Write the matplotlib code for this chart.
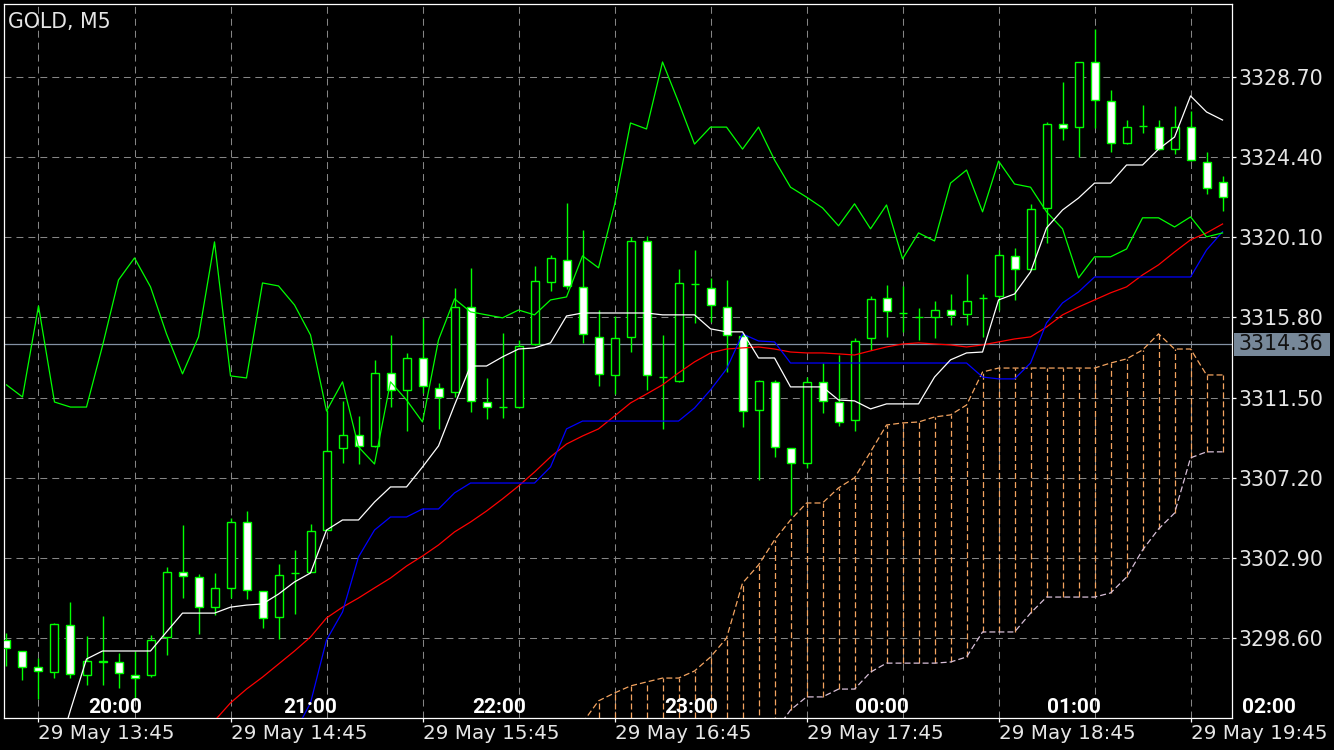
import numpy as np
import matplotlib
matplotlib.use("Agg")
import matplotlib.pyplot as plt
from matplotlib import font_manager
from matplotlib.transforms import blended_transform_factory
from matplotlib.patches import Rectangle

plt.rcParams['lines.scale_dashes'] = False
nan = np.nan

# ---------------- data (GOLD, M5) ----------------
open_ = [3298.51, 3297.92, 3297.06, 3296.79, 3299.31, 3296.63, 3297.35, 3297.33, 3296.63, 3296.63,
         3298.67, 3302.15, 3301.88, 3300.27, 3301.30, 3304.83, 3301.13, 3299.74, 3302.10, 3302.15,
         3304.40, 3308.80, 3309.49, 3308.91, 3312.82, 3311.91, 3313.62, 3312.02, 3311.80, 3316.35,
         3311.26, 3310.99, 3310.99, 3314.37, 3317.70, 3318.88, 3317.43, 3314.75, 3312.71, 3314.75,
         3319.89, 3312.58, 3312.39, 3317.57, 3317.38, 3316.35, 3314.80, 3310.83, 3312.34, 3308.80,
         3307.99, 3312.34, 3311.26, 3310.30, 3314.69, 3316.84, 3316.01, 3315.80, 3315.82, 3316.19,
         3315.98, 3316.82, 3316.95, 3319.09, 3318.39, 3321.66, 3326.15, 3325.99, 3329.48, 3327.39,
         3325.14, 3326.03, 3325.99, 3324.81, 3325.99, 3324.12, 3323.05]
high = [3298.88, 3297.92, 3297.54, 3299.42, 3300.54, 3298.72, 3299.79, 3297.81, 3297.92, 3298.77,
        3302.42, 3304.67, 3302.05, 3302.10, 3305.05, 3305.42, 3301.13, 3302.58, 3303.33, 3304.72,
        3310.83, 3311.32, 3310.51, 3313.52, 3314.85, 3313.89, 3315.77, 3312.28, 3317.38, 3318.45,
        3312.55, 3314.96, 3314.59, 3318.55, 3319.14, 3321.93, 3320.48, 3316.19, 3315.87, 3320.11,
        3320.16, 3314.85, 3318.39, 3319.41, 3317.91, 3317.80, 3314.96, 3312.42, 3312.42, 3308.80,
        3312.60, 3313.35, 3313.78, 3314.69, 3316.95, 3317.54, 3317.48, 3316.30, 3316.68, 3317.05,
        3318.13, 3317.05, 3319.41, 3319.52, 3321.88, 3326.26, 3328.41, 3329.50, 3331.25, 3327.98,
        3326.37, 3327.17, 3326.37, 3327.12, 3326.85, 3324.65, 3323.37]
low = [3297.11, 3296.36, 3295.35, 3296.47, 3296.47, 3296.10, 3296.10, 3295.94, 3295.35, 3296.52,
       3297.70, 3300.76, 3298.83, 3299.85, 3300.76, 3300.71, 3299.15, 3298.56, 3299.90, 3302.15,
       3304.40, 3307.99, 3307.94, 3308.85, 3310.99, 3309.71, 3311.75, 3309.82, 3311.53, 3310.73,
       3310.35, 3310.41, 3310.94, 3314.32, 3317.21, 3317.32, 3314.43, 3312.12, 3311.69, 3313.94,
       3311.91, 3309.82, 3312.35, 3315.50, 3315.55, 3312.87, 3309.92, 3307.08, 3308.32, 3305.21,
       3307.73, 3310.67, 3309.98, 3309.71, 3314.05, 3314.75, 3315.02, 3314.59, 3314.69, 3315.39,
       3315.39, 3314.75, 3316.19, 3316.73, 3318.35, 3319.79, 3325.30, 3324.39, 3325.94, 3324.65,
       3325.10, 3325.67, 3324.78, 3324.55, 3324.20, 3322.40, 3321.50]
close = [3298.08, 3297.06, 3296.85, 3299.36, 3296.69, 3297.38, 3297.38, 3296.74, 3296.47, 3298.51,
         3302.15, 3301.94, 3300.27, 3301.30, 3304.83, 3301.19, 3299.69, 3301.99, 3302.12, 3304.35,
         3308.64, 3309.49, 3308.91, 3312.82, 3311.91, 3313.62, 3312.12, 3311.53, 3316.35, 3311.32,
         3310.99, 3311.01, 3314.27, 3317.75, 3318.98, 3317.48, 3314.91, 3312.77, 3314.69, 3319.89,
         3312.71, 3312.61, 3317.64, 3317.60, 3316.46, 3314.85, 3310.78, 3312.39, 3308.85, 3307.99,
         3312.34, 3311.32, 3310.19, 3314.53, 3316.79, 3316.14, 3316.04, 3315.83, 3316.19, 3315.93,
         3316.68, 3316.85, 3319.14, 3318.39, 3321.61, 3326.15, 3325.94, 3329.48, 3327.44, 3325.14,
         3325.99, 3326.06, 3324.81, 3325.99, 3324.23, 3322.73, 3322.24]

tenkan = [nan, nan, nan, 3291.90, 3294.76, 3297.49, 3297.92, 3297.92, 3297.92, 3297.92,
          3298.94, 3299.95, 3299.95, 3299.95, 3300.27, 3300.38, 3300.44, 3300.97, 3301.62, 3302.10,
          3304.40, 3304.94, 3304.94, 3305.90, 3306.71, 3306.71, 3307.78, 3308.91, 3311.10, 3313.19,
          3313.19, 3313.68, 3314.10, 3314.16, 3314.43, 3315.87, 3316.03, 3316.03, 3316.03, 3316.03,
          3316.03, 3315.93, 3315.93, 3315.93, 3315.18, 3315.02, 3315.02, 3313.62, 3313.62, 3312.07,
          3312.07, 3312.07, 3311.37, 3311.32, 3310.89, 3311.16, 3311.16, 3311.16, 3312.60, 3313.52,
          3313.89, 3313.94, 3316.73, 3317.05, 3318.23, 3320.59, 3321.55, 3322.19, 3322.99, 3322.99,
          3323.96, 3323.96, 3324.81, 3325.46, 3327.66, 3326.80, 3326.37]

kijun = [nan, nan, nan, nan, nan, nan, nan, nan, nan, nan,
         nan, nan, nan, nan, nan, nan, nan, nan, 3293.52, 3295.14,
         3298.51, 3300.01, 3302.96, 3304.40, 3305.10, 3305.10, 3305.53, 3305.53, 3306.39, 3306.92,
         3306.92, 3306.92, 3306.92, 3306.92, 3307.78, 3309.82, 3310.24, 3310.24, 3310.24, 3310.24,
         3310.24, 3310.24, 3310.24, 3310.94, 3311.91, 3313.03, 3314.91, 3314.53, 3314.48, 3313.35,
         3313.35, 3313.35, 3313.35, 3313.35, 3313.35, 3313.35, 3313.35, 3313.35, 3313.35, 3313.35,
         3313.35, 3312.60, 3312.50, 3312.50, 3313.35, 3315.50, 3316.57, 3317.16, 3317.96, 3317.96,
         3317.96, 3317.96, 3317.96, 3317.96, 3317.96, 3319.41, 3320.38]

ma_red = [nan, nan, nan, nan, nan, nan, nan, nan, nan, nan,
          nan, nan, 3293.26, 3294.18, 3295.14, 3295.88, 3296.52, 3297.22, 3297.92, 3298.67,
          3299.69, 3300.27, 3300.76, 3301.30, 3301.83, 3302.47, 3303.01, 3303.60, 3304.30, 3304.83,
          3305.42, 3306.07, 3306.76, 3307.51, 3308.32, 3309.01, 3309.44, 3309.82, 3310.51, 3311.21,
          3311.69, 3312.18, 3312.82, 3313.41, 3313.89, 3314.10, 3314.16, 3314.21, 3314.10, 3313.94,
          3313.89, 3313.89, 3313.84, 3313.78, 3314.00, 3314.21, 3314.37, 3314.43, 3314.37, 3314.32,
          3314.21, 3314.32, 3314.48, 3314.64, 3314.75, 3315.28, 3315.93, 3316.35, 3316.73, 3317.11,
          3317.43, 3318.07, 3318.61, 3319.30, 3319.95, 3320.32, 3320.80]

chikou = [3312.18, 3311.53, 3316.41, 3311.26, 3310.99, 3310.99, 3314.27, 3317.80, 3318.98, 3317.43,
          3314.91, 3312.77, 3314.75, 3319.84, 3312.66, 3312.55, 3317.64, 3317.48, 3316.46, 3314.85,
          3310.78, 3312.34, 3308.85, 3307.94, 3312.34, 3311.37, 3310.19, 3314.59, 3316.79, 3316.09,
          3315.93, 3315.77, 3316.19, 3315.93, 3316.73, 3316.89, 3319.09, 3318.45, 3321.82, 3326.21,
          3325.89, 3329.48, 3327.33, 3325.08, 3325.99, 3325.99, 3324.81, 3325.99, 3324.23, 3322.77,
          3322.24, 3321.66, 3320.70, 3321.88, 3320.54, 3321.82, 3318.93, 3320.32, 3319.89, 3322.99,
          3323.69, 3321.45, 3324.17, 3322.94, 3322.77, 3321.45, 3320.54, 3317.91, 3319.04, 3319.04,
          3319.46, 3321.13, 3321.13, 3320.64, 3321.18, 3320.11, 3320.32]

span_a = [nan] * 36 + [3294.07, 3295.25, 3295.67, 3296.05,
          3296.26, 3296.47, 3296.47, 3296.85, 3297.60, 3298.61, 3301.56, 3302.53, 3303.87, 3304.94,
          3305.85, 3305.85, 3306.66, 3307.20, 3308.59, 3310.03, 3310.14, 3310.19, 3310.46, 3310.57,
          3311.10, 3312.87, 3313.08, 3313.08, 3313.08, 3313.08, 3313.08, 3313.08, 3313.08, 3313.35,
          3313.57, 3314.05, 3314.91, 3314.10, 3314.10, 3312.71, 3312.71]
span_b = [nan] * 47 + [3292.35, 3293.58, 3294.76,
          3295.46, 3295.46, 3295.88, 3295.88, 3296.79, 3297.27, 3297.27, 3297.27, 3297.27, 3297.33,
          3297.60, 3298.94, 3298.94, 3298.94, 3299.95, 3300.81, 3300.81, 3300.81, 3300.81, 3301.03,
          3301.88, 3303.33, 3304.46, 3305.31, 3308.27, 3308.59, 3308.59]

price_line = 3314.36
ytick_vals = [3328.70, 3324.40, 3320.10, 3315.80, 3311.50, 3307.20, 3302.90, 3298.60]
xtick_idx = [2, 14, 26, 38, 50, 62, 74]
xtick_labels = ["29 May 13:45", "29 May 14:45", "29 May 15:45", "29 May 16:45",
                "29 May 17:45", "29 May 18:45", "29 May 19:45"]
xgrid_idx = [2, 8, 14, 20, 26, 32, 38, 44, 50, 56, 62, 68, 74]
local_labels = ["20:00", "21:00", "22:00", "23:00", "00:00", "01:00", "02:00"]
local_pos = [6.78, 18.97, 30.78, 42.78, 54.72, 66.72, 78.9]

# ---------------- figure ----------------
W, H = 1334, 750
fig = plt.figure(figsize=(W / 100, H / 100), dpi=100, facecolor='black')
ax = fig.add_axes([4 / W, 32 / H, 1228 / W, 714 / H])
ax.set_facecolor('black')
ax.set_xlim(-0.156, 76.59)
ax.set_ylim(3294.33, 3332.586)

x = np.arange(len(close))
o = np.array(open_); c = np.array(close); hi = np.array(high); lo = np.array(low)

GREEN = '#00ff00'
GRID = '#858585'
grid_dash = (0, (5.0, 3.6))
cloud_dash = (0, (4.3, 2.2))

for gx in xgrid_idx:
    ax.axvline(gx, color=GRID, lw=0.75, ls=grid_dash, zorder=0.5)
for gy in ytick_vals:
    ax.axhline(gy, color=GRID, lw=0.75, ls=grid_dash, zorder=0.5)

ax.axhline(price_line, color='#8391a3', lw=0.9, zorder=1)

# cloud hatch
sa = np.array(span_a); sb = np.array(span_b)
ybot = ax.get_ylim()[0]
m = ~np.isnan(sa)
hb = np.where(np.isnan(sb), ybot, sb)
ax.vlines(x[m], hb[m], sa[m], colors='#f4a460', lw=0.9, linestyles=cloud_dash, zorder=1.5)
ax.plot(x, sa, color='#f4a460', lw=0.9, ls=cloud_dash, zorder=1.6)
ax.plot(x, sb, color='#d8bfd8', lw=0.9, ls=cloud_dash, zorder=1.6)

# candles
ax.vlines(x, lo, hi, colors=GREEN, lw=1.0, zorder=3)
bottoms = np.minimum(o, c)
heights = np.maximum(np.abs(c - o), 0.02)
fills = ['white' if cc < oo else 'black' for oo, cc in zip(o, c)]
ax.bar(x, heights, width=0.5, bottom=bottoms, color=fills, edgecolor=GREEN,
       linewidth=1.0, zorder=3.5)

# indicator lines
ax.plot(x, ma_red, color='#ff0000', lw=0.9, zorder=4)
ax.plot(x, kijun, color='#0000ff', lw=0.9, zorder=4)
ax.plot(x, tenkan, color='white', lw=0.9, zorder=4.2)
ax.plot(x, chikou, color=GREEN, lw=0.9, zorder=4.1)

# axes styling
for s in ax.spines.values():
    s.set_color('white')
    s.set_linewidth(0.9)
ax.yaxis.tick_right()
ax.set_yticks(ytick_vals)
ax.set_yticklabels([f"{v:.2f}" for v in ytick_vals])
ax.set_xticks(xtick_idx)
ax.set_xticklabels(xtick_labels)
for lab in ax.get_xticklabels():
    lab.set_horizontalalignment('left')
ax.tick_params(axis='y', colors='white', length=3, width=0.9, pad=1.5,
               labelsize=14.8, labelcolor='#e6e6e6')
ax.tick_params(axis='x', colors='white', length=3, width=0.9, pad=1,
               labelsize=14.3, labelcolor='#e6e6e6')

# current price box
bt = blended_transform_factory(ax.transAxes, ax.transData)
ax.add_patch(Rectangle((1.0016, price_line - 0.62), 0.0782, 1.24, transform=bt,
                       facecolor='#778899', edgecolor='none', clip_on=False, zorder=5))
ax.text(1.0049, price_line, f"{price_line:.2f}", transform=bt, ha='left', va='center',
        fontsize=14.8, color='#111111', clip_on=False, zorder=6)

# local time labels
names = {f.name for f in font_manager.fontManager.ttflist}
if 'Roboto' in names:
    lfam, lsize = 'Roboto', 15
else:
    lfam, lsize = 'DejaVu Sans', 12.5
tt = blended_transform_factory(ax.transData, ax.transAxes)
for pos, lab in zip(local_pos, local_labels):
    ax.text(pos, 0.0147, lab, transform=tt, ha='center', va='center', fontsize=lsize,
            family=lfam, fontweight='bold', color='white', clip_on=False, zorder=6)

fig.text(8 / W, 1 - 21.5 / H, "GOLD, M5", ha='left', va='center', fontsize=14.8,
         color='#e6e6e6')

fig.savefig('out.png', dpi=100, facecolor='black')
